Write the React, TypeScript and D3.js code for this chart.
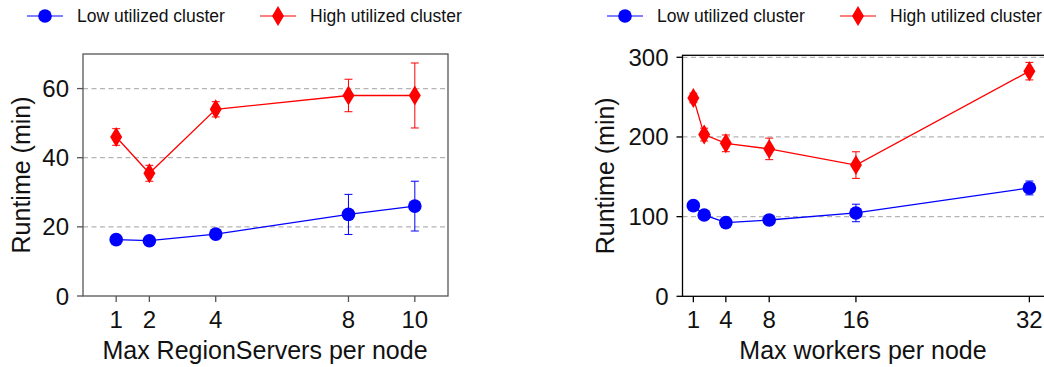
import React from "react";
import * as d3 from "d3";

// Left panel: HBase RegionServers per node
const regionServers = [1, 2, 4, 8, 10];
const rsLowRuntime = [16.3, 16.0, 17.9, 23.6, 26.0];
const rsLowErr = [0.6, 0.5, 0.6, 5.8, 7.2];
const rsHighRuntime = [46.0, 35.5, 54.0, 58.0, 58.0];
const rsHighErr = [2.4, 2.3, 2.2, 4.7, 9.4];
const rsTicksX = [1, 2, 4, 8, 10];
const rsTicksY = [0, 20, 40, 60];

// Right panel: workers per node
const workers = [1, 2, 4, 8, 16, 32];
const wLowRuntime = [113.8, 102.1, 92.5, 95.8, 104.6, 136.0];
const wLowErr = [3, 3, 3, 6, 11, 8.7];
const wHighRuntime = [249, 203, 192, 185, 164.7, 282.6];
const wHighErr = [6, 8, 10.5, 13.5, 16.7, 11];
const wTicksX = [1, 4, 8, 16, 32];
const wTicksY = [0, 100, 200, 300];

const seriesNames = ["Low utilized cluster", "High utilized cluster"];

const FONT = "'Liberation Sans', Arial, Helvetica, sans-serif";
const BLUE = "#0000ff";
const RED = "#ff0000";

type Series = { xs: number[]; ys: number[]; err: number[]; color: string; marker: "circle" | "diamond" };

function Marker({ kind, x, y, color }: { kind: "circle" | "diamond"; x: number; y: number; color: string }) {
  if (kind === "circle") return <circle cx={x} cy={y} r={6.8} fill={color} />;
  const w = 6;
  const h = 10;
  return <path d={`M${x},${y - h}L${x + w},${y}L${x},${y + h}L${x - w},${y}Z`} fill={color} />;
}

function Legend({ x0 }: { x0: number }) {
  const y = 16;
  const items: { name: string; color: string; kind: "circle" | "diamond"; dx: number }[] = [
    { name: seriesNames[0], color: BLUE, kind: "circle", dx: 0 },
    { name: seriesNames[1], color: RED, kind: "diamond", dx: 233 },
  ];
  return (
    <g>
      {items.map((it) => (
        <g key={it.name} transform={`translate(${x0 + it.dx},0)`}>
          <line x1={0} x2={36} y1={y} y2={y} stroke={it.color} strokeWidth={1.2} />
          <Marker kind={it.kind} x={18} y={y} color={it.color} />
          <text x={50} y={y + 6} fontSize={17.5} fontFamily={FONT} fill="#111">
            {it.name}
          </text>
        </g>
      ))}
    </g>
  );
}

function Panel(props: {
  left: number;
  right: number;
  top: number;
  bottom: number;
  xDomain: [number, number];
  yDomain: [number, number];
  xTicks: number[];
  yTicks: number[];
  series: Series[];
  xTitle: string;
  xTitleCenter: number;
  frameColor: string;
  yTitleX: number;
}) {
  const { left, right, top, bottom, xDomain, yDomain, xTicks, yTicks, series, xTitle, xTitleCenter, frameColor, yTitleX } = props;
  const x = d3.scaleLinear().domain(xDomain).range([left, right]);
  const y = d3.scaleLinear().domain(yDomain).range([bottom, top]);
  const line = d3
    .line<[number, number]>()
    .x((d) => x(d[0]))
    .y((d) => y(d[1]));
  const grid = yTicks.filter((t) => t > 0);
  return (
    <g>
      {grid.map((t) => (
        <line key={t} x1={left} x2={right} y1={y(t)} y2={y(t)} stroke="#b4b4b4" strokeWidth={1.3} strokeDasharray="5,3.5" />
      ))}
      <rect x={left} y={top} width={right - left} height={bottom - top} fill="none" stroke={frameColor} strokeWidth={1.3} />
      {yTicks.map((t) => (
        <g key={t}>
          <line x1={left - 6} x2={left} y1={y(t)} y2={y(t)} stroke={frameColor} strokeWidth={1.3} />
          <text x={left - 14} y={y(t) + 8.5} textAnchor="end" fontSize={24} fontFamily={FONT} fill="#111">
            {t}
          </text>
        </g>
      ))}
      {xTicks.map((t) => (
        <g key={t}>
          <line x1={x(t)} x2={x(t)} y1={bottom} y2={bottom + 6} stroke={frameColor} strokeWidth={1.3} />
          <text x={x(t)} y={bottom + 32} textAnchor="middle" fontSize={24} fontFamily={FONT} fill="#111">
            {t}
          </text>
        </g>
      ))}
      <text x={xTitleCenter} y={bottom + 63} textAnchor="middle" fontSize={25} fontFamily={FONT} fill="#111">
        {xTitle}
      </text>
      <text
        transform={`translate(${yTitleX},${(top + bottom) / 2}) rotate(-90)`}
        textAnchor="middle"
        fontSize={25}
        fontFamily={FONT}
        fill="#111"
      >
        Runtime (min)
      </text>
      {series.map((s, si) => {
        const pts = s.xs.map((v, i) => [v, s.ys[i]] as [number, number]);
        return (
          <g key={si}>
            <path d={line(pts) ?? ""} fill="none" stroke={s.color} strokeWidth={1.3} />
            {pts.map(([xv, yv], i) => {
              const lo = y(yv - s.err[i]);
              const hi = y(yv + s.err[i]);
              const cx = x(xv);
              return (
                <g key={i} stroke={s.color} strokeWidth={1}>
                  <line x1={cx} x2={cx} y1={lo} y2={hi} />
                  <line x1={cx - 4} x2={cx + 4} y1={lo} y2={lo} />
                  <line x1={cx - 4} x2={cx + 4} y1={hi} y2={hi} />
                </g>
              );
            })}
            {pts.map(([xv, yv], i) => (
              <Marker key={`m${i}`} kind={s.marker} x={x(xv)} y={y(yv)} color={s.color} />
            ))}
          </g>
        );
      })}
    </g>
  );
}

export default function App() {
  const leftSeries: Series[] = [
    { xs: regionServers, ys: rsLowRuntime, err: rsLowErr, color: BLUE, marker: "circle" },
    { xs: regionServers, ys: rsHighRuntime, err: rsHighErr, color: RED, marker: "diamond" },
  ];
  const rightSeries: Series[] = [
    { xs: workers, ys: wLowRuntime, err: wLowErr, color: BLUE, marker: "circle" },
    { xs: workers, ys: wHighRuntime, err: wHighErr, color: RED, marker: "diamond" },
  ];
  return (
    <div style={{ position: "absolute", left: 0, top: 0, width: 1044, height: 367, overflow: "hidden", background: "#fff" }}>
      <svg width={1044} height={367} style={{ display: "block" }}>
        <rect width={1044} height={367} fill="#fff" />
        <Legend x0={27} />
        <Legend x0={607} />
        <Panel
          left={83}
          right={448}
          top={54}
          bottom={296}
          xDomain={[0, 11]}
          yDomain={[0, 70]}
          xTicks={rsTicksX}
          yTicks={rsTicksY}
          series={leftSeries}
          xTitle="Max RegionServers per node"
          xTitleCenter={265}
          frameColor="#555"
          yTitleX={30}
        />
        <Panel
          left={682.5}
          right={682.5 + 10.84 * 34}
          top={55.3}
          bottom={296.3}
          xDomain={[0, 34]}
          yDomain={[0, 302.5]}
          xTicks={wTicksX}
          yTicks={wTicksY}
          series={rightSeries}
          xTitle="Max workers per node"
          xTitleCenter={863}
          frameColor="#000"
          yTitleX={614}
        />
      </svg>
    </div>
  );
}
